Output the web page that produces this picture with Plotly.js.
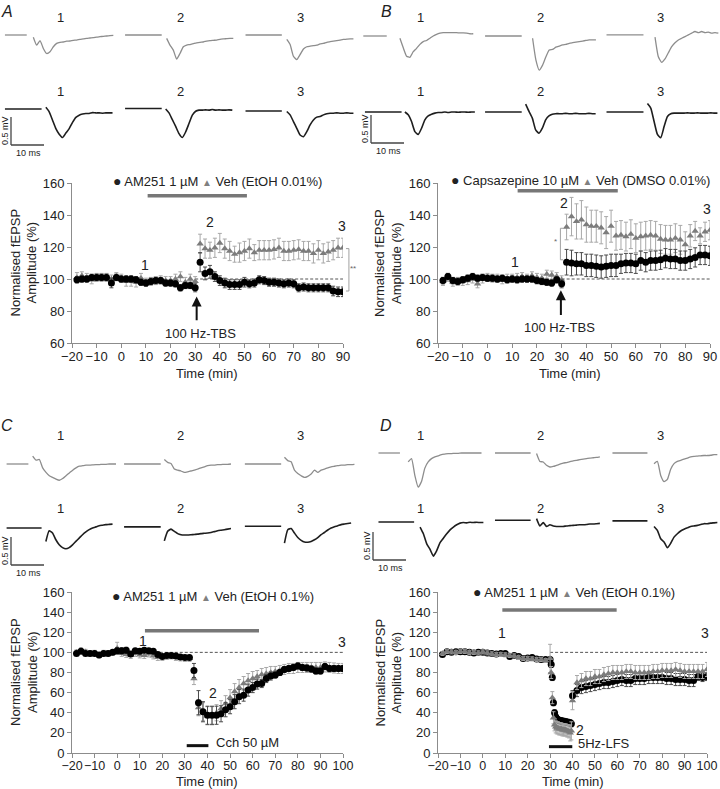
<!DOCTYPE html>
<html>
<head>
<meta charset="utf-8">
<script src="https://cdn.plot.ly/plotly-3.0.1.min.js"></script>
<style>
  html, body { margin: 0; padding: 0; background: #fff; }
  #fig { width: 720px; height: 789px; }
</style>
</head>
<body>
<div id="fig"></div>
<script>
// ---- time-course data (normalised fEPSP amplitude, %) ----
const timeAB = [-18,-16,-14,-12,-10,-8,-6,-4,-2,0,2,4,6,8,10,12,14,16,18,20,22,24,26,28,30,
  32,34,36,38,40,42,44,46,48,50,52,54,56,58,60,62,64,66,68,70,72,74,76,78,80,82,84,86,88,90];

const amA = [99.5,100,100,101,101,101,101,97.5,101,100,100,100,99.5,98,97.5,98.5,99,99,97.5,97.5,97,94.5,96,96,94.5,
  110.5,103.5,104.5,101.5,99,97.5,96.5,96.5,96.5,98,97,97.5,99.5,99,98,98,97.5,97,97.5,97,94.5,95,94.5,94.5,94.5,94.5,94.5,92.5,92,92];
const amAErr = [2,2,2,2,2,2,2,3,2,2,2,2,2,2,2,2,2,2,2,2,2,2,2,2,2.5,
  6,4,4,3,3,3,3,3,3,3,2.5,2.5,2.5,2.5,2.5,2.5,2.5,2.5,2.5,2.5,2.5,2.5,2.5,2.5,2.5,2.5,2.5,3,3,3];
const vehA = [101,102,101,99.5,101,101,101,100,101.5,100.5,98.5,98.5,98,100.5,98,98.5,99,99.5,99,99,100,101.5,98,100,98.5,
  122,119,118,119.5,122.5,119,117.5,115.5,116.5,117.5,119,116.5,118,118,118,118.5,119.5,117.5,117.5,118,118.5,117.5,117.5,116,118,116,117,118,119.5,119.5];
const vehAErr = [3,2.5,2.5,2.5,2.5,2.5,2.5,2.5,2.5,2.5,3,3,3,3,2.5,2.5,2.5,2.5,2.5,2.5,3,3,3,3,3,
  6,6,5,6,6,6,6,5,6,6,6,5,6,6,6,6,6,6,6,6,6,6,6,6,6,6,6,6,6,6];

const capB = [99,101.5,99,98.5,99.5,100.5,101.5,100.5,101,100.5,100.5,100,100.5,99.5,100,99.5,100,100,100,99,98.5,98,97.5,99.5,97,
  110.5,110,109.5,109.5,108.5,108.5,108,107.5,108,108.5,108.5,109.5,110,110,109.5,111.5,110.5,111.5,111.5,112,113,112.5,112.5,111.5,111.5,112.5,113.5,115,115,114.5];
const capBErr = [2,2,2,2,2,2,2,2,2,2,2,2,2,2,2,2,2,2,2,2,2,2,2,2,2.5,
  8,8,7,7,7,7,7,7,7,7,7,6,6,6,6,6,6,6,6,6,6,6,6,6,6,6,6,6,6,6];
const vehB = [98.5,101,98,98.5,98.5,99,100,97,100,101,100.5,100.5,99.5,100.5,100.5,101,101.5,100.5,102,101,100.5,103,102.5,101.5,99.5,
  132.5,139,136,137,134,133,133,132,129,133,127,127.5,126.5,128,125.5,126.5,127,127.5,127,125,124.5,124.5,125.5,124.5,121.5,127,130,127,129.5,130.5];
const vehBErr = [2.5,2.5,2.5,2.5,2.5,2.5,2.5,2.5,2.5,2.5,2.5,2.5,2.5,2.5,2.5,2.5,2.5,2.5,2.5,2.5,2.5,2.5,2.5,2.5,2.5,
  8,12,11,12,11,10,10,10,10,10,9,9,9,9,9,9,9,9,9,9,9,9,9,9,8,7,6,5,6,6];

const timeC = [-18,-16,-14,-12,-10,-8,-6,-4,-2,0,2,4,6,8,10,12,14,16,18,20,22,24,26,28,30,32,
  34,36,38,40,42,44,46,48,50,52,54,56,58,60,62,64,66,68,70,72,74,76,78,80,82,84,86,88,90,92,94,96,98,100];
const amC = [99,101,99,99,99,97.5,99,99,100,101.5,101.5,102,98.5,101.5,101,102,101.5,101,98,96,97,97,96.5,95.5,95,95,
  82,50,41,37.5,37.5,37.5,39,43,46,51,56,57.5,62.5,65,68.5,69,74,76.5,77.5,80,83,84,85,86.5,85,84.5,83.5,81.5,81.5,86,84,84,84,84];
const amCErr = [2,2,2,2,2,2,2,2,2,3,3,3,2,2,2,2,2,2,2,2,2,2,2,2,2,2,
  7,12,10,9,9,9,8,7,7,7,7,6,6,5,5,4,4,4,3,3,3,3,3,3,3,3,3,3,3,3,3,3,3,3];
const vehC = [100,102,100.5,99,99.5,97,99.5,99,99.5,104,99,98,97,99,97.5,97,98.5,96.5,95,95,96,96.5,95,94.5,94,94,
  74,45,41,37,37,40,44,49,55,61,65,69,72,74,76,78,79,80,81,82,83,84,84,85,85,85,85,85,85,85.5,85,84.5,84,84];
const vehCErr = [2.5,2.5,2.5,2.5,2.5,2.5,2.5,2.5,2.5,6,3,3,3,3,3,3,3,3,3,3,3,3,3,3,3,3,
  6,8,9,9,9,8,8,8,8,8,8,7,7,7,6,6,6,6,5,5,5,5,5,5,5,5,5,5,5,5,5,5,5,5];

const timeD = [-18,-16,-14,-12,-10,-8,-6,-4,-2,0,2,4,6,8,10,12,14,16,18,20,22,24,26,28,30,
  30.5,31,31.5,32,32.5,33,33.5,34,34.5,35,35.5,36,36.5,37,37.5,38,38.5,39,39.5,
  40,42,44,46,48,50,52,54,56,58,60,62,64,66,68,70,72,74,76,78,80,82,84,86,88,90,92,94,96,98,100];
const amD = [98,100.5,100,100.5,100.5,100.5,100,99.5,100,100,99.5,99,98.5,99,99,96,97,96,94,94.5,95,93.5,93,93,93,
  88,75,50,40,36,34,33,32.5,32,32,31.5,31.5,31,31,30.5,30.5,30,30,29,
  57,62,65,66,67,68,69,70,70,71,72,73,72,72,74,74,74,75,75,75,75,74,74,73,73,73,72,72,76,75,76];
const amDErr = [1.5,1.5,1.5,1.5,1.5,1.5,1.5,1.5,1.5,1.5,1.5,1.5,1.5,1.5,1.5,1.5,1.5,1.5,1.5,1.5,1.5,1.5,1.5,1.5,2,
  3,3,3,3,3,3,3,3,3,3,3,3,3,3,3,3,3,3,3,
  5,6,6,6,6,6,6,6,6,6,6,6,6,6,6,6,6,6,6,6,6,6,6,6,6,6,6,6,4,4,4];
const vehD = [99,101,100.5,100,101,101,100,100,99.5,100.5,99.5,98.5,98,98,97.5,97,96.5,95,94,94,93.5,93,93,92,94,
  80,55,35,28,26,25,25,24,24,24,23,23,23,23,22,22,21,20,22,
  52,70,72,74,74,76,76,78,79,80,80,80,81,81,80,80,80,80,81,81,82,82,82,83,82,81,81,81,81,81,83];
const vehDErr = [2,2,2,2,2,2,2,2,2,2,2,2,2,2,2,2,2,2,2,2,2,2,2,2,14,
  6,6,6,6,6,6,6,6,6,6,6,6,6,6,6,6,6,8,9,
  9,7,7,7,7,7,7,7,7,7,7,7,7,7,7,7,7,7,7,7,7,7,7,7,7,7,7,7,7,7,7];

// ---- example fEPSP traces (mV, sampled every ~1 ms), [pair 1, pair 2, pair 3] ----
const traceA_veh = [
  [-0.04,-0.18,-0.10,-0.24,-0.33,-0.30,-0.21,-0.15,-0.13,-0.125,-0.11,-0.107,-0.095,-0.09,-0.077,-0.07,-0.06,-0.054,-0.048,-0.036,-0.03,-0.024,-0.018,-0.012,-0.006],
  [-0.06,-0.18,-0.27,-0.43,-0.33,-0.21,-0.18,-0.17,-0.155,-0.14,-0.13,-0.125,-0.11,-0.10,-0.095,-0.09,-0.077,-0.07,-0.065,-0.06,-0.06],
  [-0.08,-0.17,-0.38,-0.44,-0.35,-0.25,-0.21,-0.20,-0.19,-0.18,-0.16,-0.15,-0.13,-0.12,-0.11,-0.10,-0.09,-0.08,-0.075,-0.07,-0.07]
];
const traceA_drug = [
  [0.03,-0.05,-0.20,-0.35,-0.45,-0.51,-0.43,-0.35,-0.24,-0.15,-0.11,-0.09,-0.08,-0.08,-0.065,-0.07,-0.07,-0.075,-0.07,-0.07,-0.07],
  [-0.01,-0.08,-0.20,-0.32,-0.45,-0.52,-0.42,-0.27,-0.12,-0.05,-0.03,-0.03,-0.025,-0.03,-0.02,-0.03,-0.025,-0.03,-0.03,-0.025,-0.03],
  [-0.01,-0.07,-0.19,-0.31,-0.43,-0.46,-0.37,-0.25,-0.16,-0.11,-0.10,-0.07,-0.05,-0.04,-0.04,-0.035,-0.04,-0.04,-0.035,-0.04,-0.04]
];
const traceB_veh = [
  [-0.04,-0.21,-0.36,-0.38,-0.28,-0.22,-0.15,-0.10,-0.08,-0.04,0,0.03,0.05,0.06,0.06,0.06,0.06,0.06,0.055,0.055,0.05,0.04,0.04],
  [-0.04,-0.43,-0.61,-0.52,-0.37,-0.25,-0.24,-0.20,-0.18,-0.16,-0.15,-0.13,-0.12,-0.11,-0.10,-0.09,-0.08,-0.07,-0.07,-0.07],
  [-0.04,-0.39,-0.49,-0.43,-0.32,-0.21,-0.14,-0.09,-0.06,-0.03,0,0.03,0.06,0.04,0.06,0.04,0.05,0.03,0.04,0.03]
];
const traceB_drug = [
  [0,-0.05,-0.17,-0.35,-0.40,-0.29,-0.14,-0.07,-0.04,-0.02,-0.01,-0.01,0,-0.01,0,0,-0.005,0,0,-0.005,0,0],
  [0.14,0.01,-0.11,-0.32,-0.38,-0.29,-0.14,-0.07,-0.04,-0.03,-0.03,-0.03,-0.025,-0.03,-0.03,-0.025,-0.03,-0.03,-0.03,-0.025,-0.03,-0.03],
  [0.15,0.07,-0.17,-0.40,-0.46,-0.26,-0.08,-0.03,-0.02,-0.02,-0.02,-0.02,-0.015,-0.02,-0.02,-0.015,-0.02,-0.02,-0.02,-0.015,-0.02,-0.02]
];
const traceC_veh = [
  [0.14,0.07,0.08,-0.07,-0.15,-0.21,-0.24,-0.27,-0.29,-0.26,-0.21,-0.16,-0.11,-0.07,-0.04,-0.03,-0.02,-0.02,-0.015,-0.01,-0.01,-0.005,-0.005,0,0,0],
  [0.08,0.03,0.01,-0.09,-0.11,-0.125,-0.15,-0.14,-0.125,-0.11,-0.09,-0.07,-0.05,-0.03,-0.02,-0.02,-0.01,-0.01,-0.005,-0.005,0],
  [0.12,0.06,0.04,-0.11,-0.17,-0.21,-0.24,-0.22,-0.18,-0.11,-0.15,-0.11,-0.09,-0.07,-0.05,-0.04,-0.03,-0.02,-0.02,-0.01,-0.01,-0.005]
];
const traceC_drug = [
  [-0.24,-0.05,-0.09,-0.21,-0.30,-0.35,-0.37,-0.35,-0.30,-0.24,-0.18,-0.12,-0.07,-0.03,0,0.02,0.04,0.05,0.06,0.065,0.07],
  [-0.25,-0.08,-0.04,-0.08,-0.12,-0.14,-0.145,-0.145,-0.14,-0.135,-0.13,-0.12,-0.115,-0.11,-0.10,-0.085,-0.07,-0.06,-0.05,-0.04,-0.03],
  [-0.30,-0.06,-0.04,-0.12,-0.20,-0.25,-0.28,-0.285,-0.27,-0.24,-0.20,-0.15,-0.11,-0.065,-0.03,-0.006,0.01,0.03,0.04,0.05,0.06]
];
const traceD_veh = [
  [-0.16,-0.10,-0.40,-0.61,-0.51,-0.27,-0.16,-0.10,-0.07,-0.05,-0.03,-0.02,-0.01,-0.01,-0.005,-0.005,0,0,0,0,0,0,0],
  [-0.01,-0.15,-0.16,-0.22,-0.25,-0.24,-0.22,-0.20,-0.18,-0.17,-0.155,-0.14,-0.13,-0.12,-0.11,-0.10,-0.09,-0.085,-0.08,-0.07],
  [-0.19,-0.15,-0.40,-0.51,-0.47,-0.29,-0.19,-0.15,-0.13,-0.11,-0.09,-0.07,-0.06,-0.055,-0.05,-0.045,-0.045,-0.04,-0.03,-0.03]
];
const traceD_drug = [
  [-0.09,-0.21,-0.39,-0.49,-0.61,-0.51,-0.37,-0.29,-0.21,-0.14,-0.09,-0.05,-0.02,-0.01,-0.015,-0.005,-0.01,-0.005,-0.01,-0.01],
  [0.03,-0.10,-0.04,-0.11,-0.08,-0.10,-0.11,-0.11,-0.11,-0.10,-0.095,-0.09,-0.085,-0.08,-0.08,-0.075,-0.065,-0.065,-0.06,-0.055],
  [-0.10,-0.17,-0.32,-0.375,-0.48,-0.40,-0.29,-0.23,-0.18,-0.15,-0.125,-0.10,-0.09,-0.08,-0.065,-0.05,-0.05,-0.04,-0.035,-0.03]
];

// ---- drawing ----
const W = 720, H = 789;
const FONT = 'Liberation Sans, Arial, Helvetica, sans-serif';
const GREY_TRACE = '#8d8d8d', DARK_TRACE = '#1e1e1e';
const PX_PER_MS = 3.3, PX_PER_MV = 56, SAMPLE_MS = 1.01;
const fx = px => px / W;
const fy = py => 1 - py / H;
const sfx = i => (i === 0 ? '' : String(i + 1));

const data = [];
const shapes = [];
const annotations = [];
const layout = {
  width: W, height: H,
  margin: { l: 0, r: 0, t: 0, b: 0 },
  paper_bgcolor: '#fff', plot_bgcolor: 'rgba(0,0,0,0)',
  showlegend: false,
  font: { family: FONT, color: '#222', size: 13 }
};

function note(text, x, y, xref, yref, size, extra) {
  return Object.assign({
    text: text, x: x, y: y, xref: xref, yref: yref, showarrow: false,
    font: { family: FONT, size: size, color: '#222' },
    xanchor: 'center', yanchor: 'middle'
  }, extra || {});
}

// time-course panels
const panels = [
  { letter: 'A', box: [72, 183, 343, 343], xr: [-20, 90], yr: [60, 160], tickSize: 13,
    t: timeAB, drug: amA, drugErr: amAErr, veh: vehA, vehErr: vehAErr,
    legend: ['AM251 1 \u00b5M', 'Veh (EtOH 0.01%)'], legendPx: [217, 181], yTitleX: 23.5, xTitlePx: [207, 373],
    dash: [30, 90], greyBar: [10.7, 51, 152],
    marks: [['1', 9.6, 108.7], ['2', 36, 135.6], ['3', 89.5, 133]],
    arrow: { x: 30.6, y0: 73.3, y1: 89, label: '100 Hz-TBS', lx: 32, ly: 66 } },
  { letter: 'B', box: [438, 183, 710, 343], xr: [-20, 90], yr: [60, 160], tickSize: 13,
    t: timeAB, drug: capB, drugErr: capBErr, veh: vehB, vehErr: vehBErr,
    legend: ['Capsazepine 10 \u00b5M', 'Veh (DMSO 0.01%)'], legendPx: [580, 180.5], yTitleX: 388, xTitlePx: [570, 373],
    dash: [30, 90], greyBar: [12.2, 52.7, 155.2],
    marks: [['1', 11.1, 110.8], ['2', 31, 147.7], ['3', 88.6, 143.6]],
    arrow: { x: 29.7, y0: 76.5, y1: 93, label: '100 Hz-TBS', lx: 29.3, ly: 70 } },
  { letter: 'C', box: [72, 592, 343, 753], xr: [-20, 100], yr: [0, 160], tickSize: 12.5,
    t: timeC, drug: amC, drugErr: amCErr, veh: vehC, vehErr: vehCErr,
    legend: ['AM251 1 \u00b5M', 'Veh (EtOH 0.1%)'], legendPx: [213, 596], yTitleX: 23.5, xTitlePx: [207, 781],
    dash: [10, 100], greyBar: [12.3, 62.8, 121.6],
    marks: [['1', 11.3, 111.3], ['2', 42.3, 59.3], ['3', 99.4, 110.6]],
    blackBar: { x0: 30.8, x1: 40.4, y: 7.3, label: 'Cch 50 \u00b5M', lx: 57.6, ly: 10.2 } },
  { letter: 'D', box: [438, 592, 707, 753], xr: [-20, 100], yr: [0, 160], tickSize: 12.5,
    t: timeD, drug: amD, drugErr: amDErr, veh: vehD, vehErr: vehDErr, drugFirst: true,
    legend: ['AM251 1 \u00b5M', 'Veh (EtOH 0.1%)'], legendPx: [574, 592], yTitleX: 388, xTitlePx: [573, 781],
    dash: [30, 100], greyBar: [8.7, 59.7, 142],
    marks: [['1', 8.4, 118.9], ['2', 43.3, 22.9], ['3', 99.1, 119]],
    blackBar: { x0: 29.5, x1: 39.9, y: 6.3, label: '5Hz-LFS', lx: 54, ly: 9.6 } }
];

panels.forEach((p, i) => {
  const s = sfx(i), xa = 'x' + s, ya = 'y' + s;
  const [x0, y0, x1, y1] = p.box;
  const axisStyle = {
    showline: true, linecolor: '#8c8c8c', linewidth: 1, ticks: 'outside', ticklen: 4,
    tickcolor: '#8c8c8c', showgrid: false, zeroline: false, fixedrange: true
  };
  layout['xaxis' + s] = Object.assign({ domain: [fx(x0), fx(x1)], range: p.xr, dtick: 10, tick0: -20, anchor: ya,
    tickangle: 0, ticklabelstandoff: -3, tickfont: { family: FONT, size: p.tickSize, color: '#222' } }, axisStyle);
  layout['yaxis' + s] = Object.assign({ domain: [fy(y1), fy(y0)], range: p.yr, dtick: 20, anchor: xa,
    tickfont: { family: FONT, size: 13, color: '#222' } }, axisStyle);

  const veh = {
    type: 'scatter', mode: 'markers', x: p.t, y: p.veh, xaxis: xa, yaxis: ya, hoverinfo: 'skip',
    marker: { symbol: 'triangle-up', size: 6.5, color: '#7c7c7c' },
    error_y: { type: 'data', array: p.vehErr, visible: true, color: '#a8a8a8', thickness: 1, width: 2 }
  };
  const drug = {
    type: 'scatter', mode: 'markers', x: p.t, y: p.drug, xaxis: xa, yaxis: ya, hoverinfo: 'skip',
    marker: { symbol: 'circle', size: 7, color: '#000' },
    error_y: { type: 'data', array: p.drugErr, visible: true, color: '#4a4a4a', thickness: 1, width: 2 }
  };
  if (p.drugFirst) data.push(drug, veh); else data.push(veh, drug);

  // baseline reference, drug application bar
  shapes.push({ type: 'line', xref: xa, yref: ya, x0: p.dash[0], x1: p.dash[1], y0: 100, y1: 100,
    line: { color: '#555', width: 1, dash: '3px,2px' }, layer: 'below' });
  shapes.push({ type: 'line', xref: xa, yref: ya, x0: p.greyBar[0], x1: p.greyBar[1], y0: p.greyBar[2], y1: p.greyBar[2],
    line: { color: '#777', width: 3.5 } });

  p.marks.forEach(m => annotations.push(note(m[0], m[1], m[2], xa, ya, 14)));

  if (p.arrow) {
    const a = p.arrow;
    annotations.push({ text: '', x: a.x, y: a.y1, ax: a.x, ay: a.y0, xref: xa, yref: ya, axref: xa, ayref: ya,
      showarrow: true, arrowhead: 2, arrowsize: 1, arrowwidth: 2, arrowcolor: '#111' });
    annotations.push(note(a.label, a.lx, a.ly, xa, ya, 13));
  }
  if (p.blackBar) {
    const b = p.blackBar;
    shapes.push({ type: 'line', xref: xa, yref: ya, x0: b.x0, x1: b.x1, y0: b.y, y1: b.y, line: { color: '#111', width: 3 } });
    annotations.push(note(b.label, b.lx, b.ly, xa, ya, 13));
  }

  // legend
  annotations.push(note(
    '<span style="font-size:14px">\u25cf</span> ' + p.legend[0] +
    ' <span style="color:#808080;font-size:10px">\u25b2</span> ' + p.legend[1],
    fx(p.legendPx[0]), fy(p.legendPx[1]), 'paper', 'paper', 13));
  // axis titles
  annotations.push(note('Normalised fEPSP<br>Amplitude (%)', fx(p.yTitleX), fy((y0 + y1) / 2), 'paper', 'paper', 13,
    { textangle: -90 }));
  annotations.push(note('Time (min)', fx(p.xTitlePx[0]), fy(p.xTitlePx[1]), 'paper', 'paper', 13));
});

// significance brackets
(function () {
  const dx = t => (t + 20) / 110, dy = v => (v - 60) / 100;
  const br = { color: '#a0a0a0', width: 1 };
  shapes.push({ type: 'line', xref: 'x domain', yref: 'y domain', x0: dx(92.4), x1: dx(92.4), y0: dy(92.5), y1: dy(119), line: br });
  shapes.push({ type: 'line', xref: 'x domain', yref: 'y domain', x0: dx(91.2), x1: dx(92.4), y0: dy(119), y1: dy(119), line: br });
  shapes.push({ type: 'line', xref: 'x domain', yref: 'y domain', x0: dx(91.2), x1: dx(92.4), y0: dy(92.5), y1: dy(92.5), line: br });
  annotations.push(note('**', dx(94), dy(106.5), 'x domain', 'y domain', 8, { font: { family: FONT, size: 8, color: '#666' } }));
  shapes.push({ type: 'line', xref: 'x2', yref: 'y2', x0: 29.5, x1: 29.5, y0: 112, y1: 131.7, line: br });
  shapes.push({ type: 'line', xref: 'x2', yref: 'y2', x0: 29.5, x1: 30.6, y0: 131.7, y1: 131.7, line: br });
  shapes.push({ type: 'line', xref: 'x2', yref: 'y2', x0: 29.5, x1: 30.6, y0: 112, y1: 112, line: br });
  annotations.push(note('*', 27.6, 123.5, 'x2', 'y2', 8, { font: { family: FONT, size: 8, color: '#666' } }));
})();

// example traces above each time course
const tracePanels = [
  { x0: 0, y0: 0, h: 170, greyBase: 35, blackBase: 109, bar: [11, 145], labelY: [17, 92],
    veh: traceA_veh, drug: traceA_drug, vehLvl: [0, 0, 0], drugLvl: [0, 0.01, -0.035],
    vehPos: { base: [[1.5, 8.1], [37.9, 49.0], [74.4, 85.4]], wave: [10.1, 50.5, 86.9] },
    drugPos: { base: [[1.5, 12.6], [37.9, 49.0], [74.4, 85.4]], wave: [13.9, 50.2, 86.9] } },
  { x0: 360, y0: 0, h: 170, greyBase: 36, blackBase: 112, bar: [11, 143], labelY: [17, 92],
    veh: traceB_veh, drug: traceB_drug, vehLvl: [0, 0, 0.02], drugLvl: [0, 0, 0],
    vehPos: { base: [[1.0, 8.1], [37.9, 49.0], [74.7, 85.9]], wave: [12.1, 52.3, 89.4] },
    drugPos: { base: [[1.5, 12.6], [37.9, 49.0], [74.7, 85.9]], wave: [13.6, 50.2, 87.1] } },
  { x0: 0, y0: 395, h: 180, greyBase: 69, blackBase: 133, bar: [11, 170], labelY: [40, 113],
    veh: traceC_veh, drug: traceC_drug, vehLvl: [0, 0, 0], drugLvl: [0, 0.02, 0.03],
    vehPos: { base: [[2.0, 8.6], [37.6, 48.7], [74.2, 85.2]], wave: [9.9, 49.8, 86.2] },
    drugPos: { base: [[2.0, 12.6], [37.6, 48.7], [74.2, 85.2]], wave: [13.9, 49.8, 86.2] } },
  { x0: 360, y0: 395, h: 180, greyBase: 58, blackBase: 127, bar: [13, 165], labelY: [40, 113],
    veh: traceD_veh, drug: traceD_drug, vehLvl: [0, 0, 0], drugLvl: [0, 0.03, 0.02],
    vehPos: { base: [[5.6, 12.1], [40.9, 51.7], [76.5, 87.1]], wave: [14.6, 53.5, 89.1] },
    drugPos: { base: [[5.6, 16.4], [40.9, 51.7], [76.5, 87.1]], wave: [18.2, 53.5, 89.1] } }
];

tracePanels.forEach((tp, i) => {
  const n = 5 + i, xa = 'x' + n, ya = 'y' + n;
  layout['xaxis' + n] = { domain: [fx(tp.x0), fx(tp.x0 + 360)], range: [0, 360 / PX_PER_MS], visible: false, fixedrange: true, anchor: ya };
  layout['yaxis' + n] = { domain: [fy(tp.y0 + tp.h), fy(tp.y0)],
    range: [(tp.greyBase - tp.h) / PX_PER_MV, tp.greyBase / PX_PER_MV], visible: false, fixedrange: true, anchor: xa };

  const rows = [
    { waves: tp.veh, lvl: tp.vehLvl, pos: tp.vehPos, off: 0, color: GREY_TRACE, w: 1.3 },
    { waves: tp.drug, lvl: tp.drugLvl, pos: tp.drugPos, off: -(tp.blackBase - tp.greyBase) / PX_PER_MV, color: DARK_TRACE, w: 1.6 }
  ];
  rows.forEach(r => r.waves.forEach((wv, k) => {
    const b = r.off + r.lvl[k];
    data.push({ type: 'scatter', mode: 'lines', x: r.pos.base[k], y: [b, b], xaxis: xa, yaxis: ya,
      hoverinfo: 'skip', line: { color: r.color, width: r.w } });
    data.push({ type: 'scatter', mode: 'lines', x: wv.map((_, j) => r.pos.wave[k] + j * SAMPLE_MS), y: wv.map(v => b + v),
      xaxis: xa, yaxis: ya, hoverinfo: 'skip', line: { color: r.color, width: r.w, shape: 'spline', smoothing: 0.5 } });
  }));

  // scale bar: 10 ms x 0.5 mV
  const sx = tp.bar[0] / PX_PER_MS, sy = (tp.greyBase - tp.bar[1]) / PX_PER_MV;
  shapes.push({ type: 'line', xref: xa, yref: ya, x0: sx, x1: sx, y0: sy, y1: sy + 0.5, line: { color: '#444', width: 1.3 } });
  shapes.push({ type: 'line', xref: xa, yref: ya, x0: sx, x1: sx + 10, y0: sy, y1: sy, line: { color: '#444', width: 1.3 } });
  annotations.push(note('0.5 mV', fx(tp.x0 + tp.bar[0] - 6), fy(tp.y0 + tp.bar[1] - 14), 'paper', 'paper', 9, { textangle: -90 }));
  annotations.push(note('10 ms', fx(tp.x0 + tp.bar[0] + 17), fy(tp.y0 + tp.bar[1] + 8), 'paper', 'paper', 9));

  // sweep numbers
  [60, 180, 300].forEach((lx, k) => {
    tp.labelY.forEach(ly => annotations.push(note(String(k + 1), fx(tp.x0 + lx), fy(tp.y0 + ly), 'paper', 'paper', 13)));
  });
});

// panel letters
[['A', 7, 1], ['B', 386, 1], ['C', 7, 415], ['D', 386, 415]].forEach(l => {
  annotations.push(note('<i>' + l[0] + '</i>', fx(l[1]), fy(l[2]), 'paper', 'paper', 16, { yanchor: 'top' }));
});

layout.shapes = shapes;
layout.annotations = annotations;

Plotly.newPlot('fig', data, layout, { displayModeBar: false, staticPlot: true });
</script>
</body>
</html>
